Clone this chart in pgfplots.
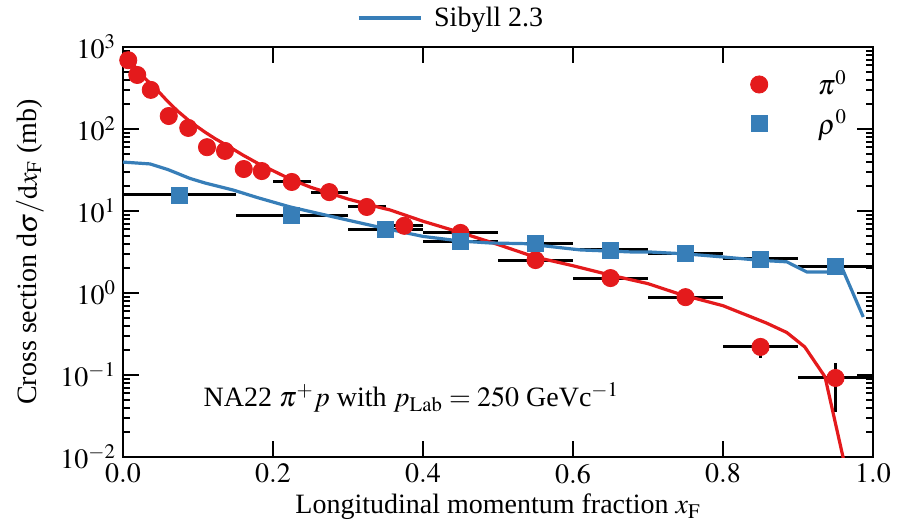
\documentclass[border=0pt]{standalone}
\usepackage{mathptmx}
\usepackage{fontspec}
\setmainfont{Liberation Serif}
\usepackage{pgfplots}
\pgfplotsset{compat=1.18}
\usepackage{pgfplotstable}
\definecolor{cred}{RGB}{228,26,28}
\definecolor{cblue}{RGB}{55,126,184}
\newcommand{\fs}{\fontsize{14}{17}\selectfont}

\pgfplotstableread{
x y ex eyp eym
0.007 690 0 0 0
0.019 456 0 0 0
0.037 300 0 0 0
0.061 144 0 0 0
0.087 103 0 0 0
0.112 60 0 0 0
0.136 54 0 0 0
0.161 32.5 0 0 0
0.185 30.7 0 0 0
0.225 22.6 0.025 0 0
0.275 17 0.025 0 0
0.325 11.2 0.025 0 0
0.375 6.6 0.025 0 0
0.45 5.4 0.05 0 0
0.55 2.52 0.05 0 0
0.65 1.52 0.05 0 0
0.75 0.89 0.05 0 0
0.85 0.22 0.05 0.06 0.06
0.95 0.092 0.05 0.048 0.057
}\pizero

\pgfplotstableread{
x y ex eyp eym
0.075 15.7 0.075 0 0
0.225 8.9 0.075 0 0
0.35 5.9 0.05 0 0
0.45 4.2 0.05 0 0
0.55 4.07 0.05 0 0
0.65 3.35 0.05 0 0
0.75 3.07 0.05 0 0
0.85 2.6 0.05 0 0
0.95 2.13 0.05 0 0
}\rhozero

\pgfplotstableread{
x y
0.0 850
0.012 640
0.025 450
0.043 316
0.06 215
0.073 165
0.09 122
0.109 92
0.123 76
0.14 62
0.16 48
0.18 38
0.2 31
0.223 24.5
0.25 19.5
0.3 14
0.343 11
0.356 10.3
0.4 7.5
0.449 5.5
0.5 3.9
0.549 2.75
0.6 2.15
0.649 1.66
0.7 1.3
0.745 0.95
0.8 0.7
0.858 0.43
0.885 0.33
0.909 0.22
0.936 0.095
0.96 0.01
0.97 0.003
}\sibpi

\pgfplotstableread{
x y
0.0 39.5
0.036 37.5
0.06 32
0.089 25
0.109 22
0.147 18
0.18 14.5
0.223 11.2
0.28 8.5
0.343 6.3
0.4 4.9
0.45 4.3
0.49 4.07
0.535 4.0
0.61 3.35
0.68 3.16
0.703 3.16
0.75 3.0
0.8 2.75
0.85 2.5
0.885 2.4
0.912 1.8
0.947 1.8
0.96 1.9
0.987 0.51
}\sibrho

\begin{document}
\begin{tikzpicture}
\begin{axis}[
  at={(0,0)}, anchor=south west,
  width=375pt, height=205pt, scale only axis,
  xmin=0, xmax=1, ymode=log, ymin=1e-2, ymax=1e3,
  xtick={0,0.2,0.4,0.6,0.8,1.0},
  ytick={1e-2,1e-1,1,10,100,1000},
  xtick pos=both, ytick pos=both,
  tick align=inside,
  major tick length=8pt, minor tick length=3.5pt,
  every tick/.style={black, line width=1pt},
  axis line style={line width=1pt},
  tick label style={font=\fs},
  scaled x ticks=false,
  xticklabel style={/pgf/number format/.cd, fixed, fixed zerofill, precision=1},
  every axis x label/.style={at={(axis description cs:0.5,-0.122)}, anchor=center, font=\fs},
  every axis y label/.style={at={(axis description cs:-0.124,0.5)}, rotate=90, anchor=center, font=\fs},
  xlabel={Longitudinal momentum fraction $x_{\mathrm{F}}$},
  ylabel={Cross section d$\sigma/\mathrm{d}x_{\mathrm{F}}$ (mb)},
  legend style={at={(0.979,0.962)}, anchor=north east, draw=none, fill=none, font=\fs,
    row sep=2pt, /tikz/every odd column/.append style={column sep=23pt}},
  legend cell align=left,
]
\addplot[forget plot, only marks, mark=none,
  error bars/.cd, x dir=both, x explicit, y dir=both, y explicit, error mark=none,
  error bar style={line width=1.5pt, draw=black}]
  table[x=x, y=y, x error=ex, y error plus=eyp, y error minus=eym] {\pizero};
\addplot[forget plot, only marks, mark=none,
  error bars/.cd, x dir=both, x explicit, y dir=both, y explicit, error mark=none,
  error bar style={line width=1.5pt, draw=black}]
  table[x=x, y=y, x error=ex, y error plus=eyp, y error minus=eym] {\rhozero};
\addplot[forget plot, cred, line width=1.6pt, no marks] table[x=x,y=y] {\sibpi};
\addplot[forget plot, cblue, line width=1.6pt, no marks] table[x=x,y=y] {\sibrho};
\addplot[only marks, mark=*, mark size=4.3pt, color=cred, mark options={fill=cred, draw=cred}]
  table[x=x,y=y] {\pizero};
\addlegendentry{$\pi^{0}$}
\addplot[only marks, mark=square*, mark size=4pt, color=cblue, mark options={fill=cblue, draw=cblue}]
  table[x=x,y=y] {\rhozero};
\addlegendentry{$\rho^{0}$}
\node[anchor=base west, font=\fs] at (rel axis cs:0.098,0.122)
  {NA22 $\pi^{+}p$ with $p_{\mathrm{Lab}}=250$ GeVc$^{-1}$};
\end{axis}
\begin{axis}[
  at={(0,0)}, anchor=south west,
  width=375pt, height=205pt, scale only axis,
  hide axis, xmin=0, xmax=1, ymin=0, ymax=1,
  legend style={at={(0.4387,1.0707)}, anchor=center, draw=none, fill=none, font=\fs,
    /tikz/every odd column/.append style={column sep=4pt}},
  legend image code/.code={\draw[#1] (0pt,0pt) -- (31pt,0pt);},
]
\addlegendimage{cblue, line width=1.6pt}
\addlegendentry{Sibyll 2.3}
\end{axis}
\pgfresetboundingbox
\path[use as bounding box] (-61.5pt,-36pt) rectangle (390.5pt,228.5pt);
\end{tikzpicture}
\end{document}
